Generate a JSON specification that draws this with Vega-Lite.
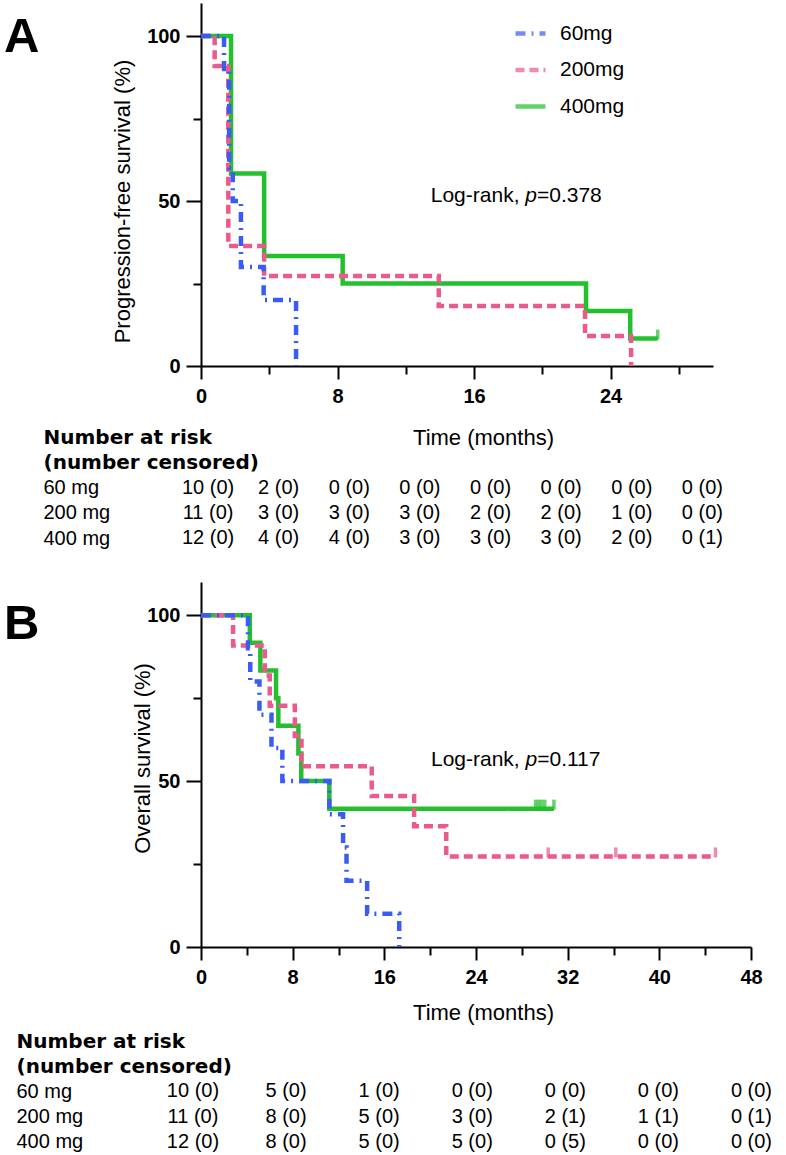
{
  "$schema": "https://vega.github.io/schema/vega-lite/v6.json",
  "background": "white",
  "padding": {"left": 4, "top": 3, "right": 0, "bottom": 0},
  "bounds": "flush",
  "spacing": 0,
  "config": {
    "font": "Liberation Sans",
    "view": {"stroke": null},
    "axis": {
      "grid": false,
      "domainColor": "black",
      "domainWidth": 2,
      "tickColor": "black",
      "tickWidth": 2,
      "labelColor": "black",
      "titleColor": "black",
      "labelFont": "Liberation Sans",
      "labelFontSize": 20,
      "labelFontWeight": "bold",
      "titleFont": "Liberation Sans",
      "titleFontSize": 22,
      "titleFontWeight": "normal"
    },
    "text": {"color": "black"}
  },
  "resolve": {"scale": {"color": "independent", "strokeDash": "independent", "strokeWidth": "independent"}},
  "datasets": {
    "survA": [
      {"dose": "400mg", "t": 0, "s": 100},
      {"dose": "400mg", "t": 1.76, "s": 58.3},
      {"dose": "400mg", "t": 3.7, "s": 33.3},
      {"dose": "400mg", "t": 8.3, "s": 25},
      {"dose": "400mg", "t": 22.56, "s": 16.7},
      {"dose": "400mg", "t": 25.15, "s": 8.3},
      {"dose": "400mg", "t": 26.76, "s": 8.3},
      {"dose": "200mg", "t": 0, "s": 100},
      {"dose": "200mg", "t": 0.8, "s": 90.9},
      {"dose": "200mg", "t": 1.6, "s": 36.4},
      {"dose": "200mg", "t": 3.7, "s": 27.3},
      {"dose": "200mg", "t": 13.93, "s": 18.2},
      {"dose": "200mg", "t": 22.5, "s": 9.1},
      {"dose": "200mg", "t": 25.2, "s": 0},
      {"dose": "60mg", "t": 0, "s": 100},
      {"dose": "60mg", "t": 1.35, "s": 90},
      {"dose": "60mg", "t": 1.65, "s": 60},
      {"dose": "60mg", "t": 1.86, "s": 50},
      {"dose": "60mg", "t": 2.34, "s": 30},
      {"dose": "60mg", "t": 3.67, "s": 20},
      {"dose": "60mg", "t": 5.57, "s": 0}
    ],
    "censA": [
      {"dose": "400mg", "t": 26.76, "s": 8.3}
    ],
    "survB": [
      {"dose": "400mg", "t": 0, "s": 100},
      {"dose": "400mg", "t": 4.26, "s": 91.7},
      {"dose": "400mg", "t": 5.18, "s": 83.3},
      {"dose": "400mg", "t": 6.55, "s": 75},
      {"dose": "400mg", "t": 6.75, "s": 66.7},
      {"dose": "400mg", "t": 8.5, "s": 58.3},
      {"dose": "400mg", "t": 8.75, "s": 50},
      {"dose": "400mg", "t": 11.2, "s": 41.7},
      {"dose": "400mg", "t": 30.8, "s": 41.7},
      {"dose": "200mg", "t": 0, "s": 100},
      {"dose": "200mg", "t": 2.8, "s": 90.9},
      {"dose": "200mg", "t": 5.57, "s": 81.8},
      {"dose": "200mg", "t": 6.0, "s": 72.7},
      {"dose": "200mg", "t": 8.19, "s": 63.6},
      {"dose": "200mg", "t": 8.77, "s": 54.5},
      {"dose": "200mg", "t": 14.9, "s": 45.5},
      {"dose": "200mg", "t": 18.6, "s": 36.4},
      {"dose": "200mg", "t": 21.4, "s": 27.3},
      {"dose": "200mg", "t": 44.9, "s": 27.3},
      {"dose": "60mg", "t": 0, "s": 100},
      {"dose": "60mg", "t": 4.1, "s": 90},
      {"dose": "60mg", "t": 4.3, "s": 80},
      {"dose": "60mg", "t": 5.1, "s": 70},
      {"dose": "60mg", "t": 6.15, "s": 60},
      {"dose": "60mg", "t": 7.1, "s": 50},
      {"dose": "60mg", "t": 11.2, "s": 40},
      {"dose": "60mg", "t": 12.4, "s": 30},
      {"dose": "60mg", "t": 12.7, "s": 20},
      {"dose": "60mg", "t": 14.5, "s": 10},
      {"dose": "60mg", "t": 17.3, "s": 0}
    ],
    "censB": [
      {"dose": "400mg", "t": 29.2, "s": 41.7},
      {"dose": "400mg", "t": 29.45, "s": 41.7},
      {"dose": "400mg", "t": 29.7, "s": 41.7},
      {"dose": "400mg", "t": 30.0, "s": 41.7},
      {"dose": "400mg", "t": 30.8, "s": 41.7},
      {"dose": "200mg", "t": 30.3, "s": 27.3},
      {"dose": "200mg", "t": 36.2, "s": 27.3},
      {"dose": "200mg", "t": 44.9, "s": 27.3}
    ],
    "tabA": [
      {"r": 3, "t": 0, "v": "10 (0)"}, {"r": 3, "t": 4, "v": "2 (0)"}, {"r": 3, "t": 8, "v": "0 (0)"}, {"r": 3, "t": 12, "v": "0 (0)"},
      {"r": 3, "t": 16, "v": "0 (0)"}, {"r": 3, "t": 20, "v": "0 (0)"}, {"r": 3, "t": 24, "v": "0 (0)"}, {"r": 3, "t": 28, "v": "0 (0)"},
      {"r": 4, "t": 0, "v": "11 (0)"}, {"r": 4, "t": 4, "v": "3 (0)"}, {"r": 4, "t": 8, "v": "3 (0)"}, {"r": 4, "t": 12, "v": "3 (0)"},
      {"r": 4, "t": 16, "v": "2 (0)"}, {"r": 4, "t": 20, "v": "2 (0)"}, {"r": 4, "t": 24, "v": "1 (0)"}, {"r": 4, "t": 28, "v": "0 (0)"},
      {"r": 5, "t": 0, "v": "12 (0)"}, {"r": 5, "t": 4, "v": "4 (0)"}, {"r": 5, "t": 8, "v": "4 (0)"}, {"r": 5, "t": 12, "v": "3 (0)"},
      {"r": 5, "t": 16, "v": "3 (0)"}, {"r": 5, "t": 20, "v": "3 (0)"}, {"r": 5, "t": 24, "v": "2 (0)"}, {"r": 5, "t": 28, "v": "0 (1)"}
    ],
    "tabB": [
      {"r": 3, "t": 0, "v": "10 (0)"}, {"r": 3, "t": 8, "v": "5 (0)"}, {"r": 3, "t": 16, "v": "1 (0)"}, {"r": 3, "t": 24, "v": "0 (0)"},
      {"r": 3, "t": 32, "v": "0 (0)"}, {"r": 3, "t": 40, "v": "0 (0)"}, {"r": 3, "t": 48, "v": "0 (0)"},
      {"r": 4, "t": 0, "v": "11 (0)"}, {"r": 4, "t": 8, "v": "8 (0)"}, {"r": 4, "t": 16, "v": "5 (0)"}, {"r": 4, "t": 24, "v": "3 (0)"},
      {"r": 4, "t": 32, "v": "2 (1)"}, {"r": 4, "t": 40, "v": "1 (1)"}, {"r": 4, "t": 48, "v": "0 (1)"},
      {"r": 5, "t": 0, "v": "12 (0)"}, {"r": 5, "t": 8, "v": "8 (0)"}, {"r": 5, "t": 16, "v": "5 (0)"}, {"r": 5, "t": 24, "v": "5 (0)"},
      {"r": 5, "t": 32, "v": "0 (5)"}, {"r": 5, "t": 40, "v": "0 (0)"}, {"r": 5, "t": 48, "v": "0 (0)"}
    ]
  },
  "vconcat": [
    {
      "width": 512,
      "height": 363,
      "title": {"text": "A", "anchor": "start", "frame": "group", "orient": "top", "offset": 0, "dx": -197, "dy": 97.5, "baseline": "alphabetic", "fontSize": 49, "fontWeight": "bold", "font": "Liberation Sans", "color": "black"},
      "layer": [
        {
          "data": {"name": "survA"},
          "mark": {"type": "line", "interpolate": "step-after", "strokeCap": "butt"},
          "encoding": {
            "x": {"field": "t", "type": "quantitative", "scale": {"domain": [0, 30], "nice": false, "zero": false},
              "axis": {"values": [0, 2, 4, 6, 8, 10, 12, 14, 16, 18, 20, 22, 24, 26, 28, 30],
                "labelExpr": "datum.value % 8 === 0 ? datum.label : ''",
                "tickSize": {"condition": {"test": "datum.value % 8 === 0", "value": 13}, "value": 8},
                "labelPadding": 7, "labelOverlap": false, "labelFlush": false,
                "title": "Time (months)", "titleX": 282, "titleY": 61}},
            "y": {"field": "s", "type": "quantitative", "scale": {"domain": [0, 110], "nice": false},
              "axis": {"values": [0, 25, 50, 75, 100],
                "labelExpr": "datum.value % 50 === 0 ? datum.label : ''",
                "tickSize": {"condition": {"test": "datum.value % 50 === 0", "value": 15}, "value": 8},
                "labelPadding": 6, "labelOverlap": false, "labelFlush": false,
                "title": "Progression-free survival (%)", "titleX": -67, "titleY": 198, "titleBaseline": "bottom"}},
            "color": {"field": "dose", "type": "nominal", "scale": {"domain": ["60mg", "200mg", "400mg"], "range": ["#3a5cf5", "#eb5a8c", "#22c02c"]},
              "legend": {"title": null, "orient": "none", "legendX": 312, "legendY": 13, "symbolType": "stroke", "symbolSize": 900, "labelFontSize": 21, "labelFont": "Liberation Sans", "labelColor": "black", "rowPadding": 8.5, "labelOffset": 12, "padding": 0}},
            "strokeDash": {"field": "dose", "type": "nominal", "scale": {"domain": ["60mg", "200mg", "400mg"], "range": [[10, 6, 2, 6], [9, 5], [1, 0]]},
              "legend": {"title": null, "orient": "none", "legendX": 312, "legendY": 13, "symbolType": "stroke", "symbolSize": 900, "labelFontSize": 21, "labelFont": "Liberation Sans", "labelColor": "black", "rowPadding": 8.5, "labelOffset": 12, "padding": 0}},
            "strokeWidth": {"field": "dose", "type": "nominal", "scale": {"domain": ["60mg", "200mg", "400mg"], "range": [4.5, 4.5, 6]},
              "legend": {"title": null, "orient": "none", "legendX": 312, "legendY": 13, "symbolType": "stroke", "symbolSize": 900, "labelFontSize": 21, "labelFont": "Liberation Sans", "labelColor": "black", "rowPadding": 8.5, "labelOffset": 12, "padding": 0}}
          }
        },
        {
          "data": {"name": "censA"},
          "mark": {"type": "tick", "orient": "vertical", "size": 10, "thickness": 3.5, "yOffset": -4},
          "encoding": {
            "x": {"field": "t", "type": "quantitative"},
            "y": {"field": "s", "type": "quantitative"},
            "color": {"field": "dose", "type": "nominal"}
          }
        },
        {
          "data": {"values": [{}]},
          "mark": {"type": "text", "align": "right", "baseline": "alphabetic", "fontSize": 21, "font": "Liberation Sans", "dx": -5.8},
          "encoding": {"x": {"datum": 19.0, "type": "quantitative"}, "y": {"datum": 49.7, "type": "quantitative"}, "text": {"value": "Log-rank,"}}
        },
        {
          "data": {"values": [{}]},
          "mark": {"type": "text", "align": "left", "baseline": "alphabetic", "fontSize": 21, "font": "Liberation Sans", "fontStyle": "italic"},
          "encoding": {"x": {"datum": 19.0, "type": "quantitative"}, "y": {"datum": 49.7, "type": "quantitative"}, "text": {"value": "p"}}
        },
        {
          "data": {"values": [{}]},
          "mark": {"type": "text", "align": "left", "baseline": "alphabetic", "fontSize": 21, "font": "Liberation Sans", "dx": 11.7},
          "encoding": {"x": {"datum": 19.0, "type": "quantitative"}, "y": {"datum": 49.7, "type": "quantitative"}, "text": {"value": "=0.378"}}
        }
      ]
    },
    {
      "width": 512,
      "height": 216,
      "data": {"name": "tabA"},
      "mark": {"type": "text", "fontSize": 20, "font": "Liberation Sans", "baseline": "middle", "align": "center"},
      "encoding": {
        "x": {"field": "t", "type": "quantitative", "scale": {"domain": [-0.4, 28.6], "nice": false, "zero": false}, "axis": null},
        "y": {"field": "r", "type": "quantitative",
          "scale": {"domain": [-1.812, 6.742], "reverse": true, "nice": false, "zero": false},
          "axis": {"title": null, "orient": "left", "values": [1, 2, 3, 4, 5],
            "labelExpr": "['Number at risk', '(number censored)', '60 mg', '200 mg', '400 mg'][datum.value - 1]",
            "domain": false, "ticks": false, "tickSize": 0, "labelPadding": 0, "offset": 158, "labelAlign": "left", "labelBaseline": "middle", "labelFontSize": 20, "labelLimit": 0, "labelColor": "black", "labelOverlap": false, "labelFlush": false,
            "labelFont": {"condition": {"test": "datum.value <= 2", "value": "DejaVu Sans"}, "value": "Liberation Sans"},
            "labelFontWeight": {"condition": {"test": "datum.value <= 2", "value": "bold"}, "value": "normal"}}},
        "text": {"field": "v"}
      }
    },
    {
      "width": 550,
      "height": 365,
      "title": {"text": "B", "anchor": "start", "frame": "group", "orient": "top", "offset": 0, "dx": -197, "dy": 105.5, "baseline": "alphabetic", "fontSize": 49, "fontWeight": "bold", "font": "Liberation Sans", "color": "black"},
      "layer": [
        {
          "data": {"name": "survB"},
          "mark": {"type": "line", "interpolate": "step-after", "strokeCap": "butt"},
          "encoding": {
            "x": {"field": "t", "type": "quantitative", "scale": {"domain": [0, 48], "nice": false, "zero": false},
              "axis": {"values": [0, 2, 4, 6, 8, 10, 12, 14, 16, 18, 20, 22, 24, 26, 28, 30, 32, 34, 36, 38, 40, 42, 44, 46, 48],
                "labelExpr": "datum.value % 8 === 0 ? datum.label : ''",
                "tickSize": {"condition": {"test": "datum.value % 8 === 0", "value": 13}, "value": 8},
                "labelPadding": 7, "labelOverlap": false, "labelFlush": false,
                "title": "Time (months)", "titleX": 282, "titleY": 55}},
            "y": {"field": "s", "type": "quantitative", "scale": {"domain": [0, 110], "nice": false},
              "axis": {"values": [0, 25, 50, 75, 100],
                "labelExpr": "datum.value % 50 === 0 ? datum.label : ''",
                "tickSize": {"condition": {"test": "datum.value % 50 === 0", "value": 15}, "value": 8},
                "labelPadding": 6, "labelOverlap": false, "labelFlush": false,
                "title": "Overall  survival (%)", "titleX": -47, "titleY": 176, "titleBaseline": "bottom"}},
            "color": {"field": "dose", "type": "nominal", "scale": {"domain": ["60mg", "200mg", "400mg"], "range": ["#3a5cf5", "#eb5a8c", "#22c02c"]}, "legend": null},
            "strokeDash": {"field": "dose", "type": "nominal", "scale": {"domain": ["60mg", "200mg", "400mg"], "range": [[10, 6, 2, 6], [9, 5], [1, 0]]}, "legend": null},
            "strokeWidth": {"field": "dose", "type": "nominal", "scale": {"domain": ["60mg", "200mg", "400mg"], "range": [4.5, 4.5, 6]}, "legend": null}
          }
        },
        {
          "data": {"name": "censB"},
          "mark": {"type": "tick", "orient": "vertical", "size": 10, "thickness": 3.5, "yOffset": -4},
          "encoding": {
            "x": {"field": "t", "type": "quantitative"},
            "y": {"field": "s", "type": "quantitative"},
            "color": {"field": "dose", "type": "nominal", "legend": null}
          }
        },
        {
          "data": {"values": [{}]},
          "mark": {"type": "text", "align": "right", "baseline": "alphabetic", "fontSize": 21, "font": "Liberation Sans", "dx": -5.8},
          "encoding": {"x": {"datum": 28.32, "type": "quantitative"}, "y": {"datum": 54.55, "type": "quantitative"}, "text": {"value": "Log-rank,"}}
        },
        {
          "data": {"values": [{}]},
          "mark": {"type": "text", "align": "left", "baseline": "alphabetic", "fontSize": 21, "font": "Liberation Sans", "fontStyle": "italic"},
          "encoding": {"x": {"datum": 28.32, "type": "quantitative"}, "y": {"datum": 54.55, "type": "quantitative"}, "text": {"value": "p"}}
        },
        {
          "data": {"values": [{}]},
          "mark": {"type": "text", "align": "left", "baseline": "alphabetic", "fontSize": 21, "font": "Liberation Sans", "dx": 11.7},
          "encoding": {"x": {"datum": 28.32, "type": "quantitative"}, "y": {"datum": 54.55, "type": "quantitative"}, "text": {"value": "=0.117"}}
        }
      ]
    },
    {
      "width": 550,
      "height": 208,
      "data": {"name": "tabB"},
      "mark": {"type": "text", "fontSize": 20, "font": "Liberation Sans", "baseline": "middle", "align": "center"},
      "encoding": {
        "x": {"field": "t", "type": "quantitative", "scale": {"domain": [0.688, 47.96], "nice": false, "zero": false}, "axis": null},
        "y": {"field": "r", "type": "quantitative",
          "scale": {"domain": [-2.723, 5.515], "reverse": true, "nice": false, "zero": false},
          "axis": {"title": null, "orient": "left", "values": [1, 2, 3, 4, 5],
            "labelExpr": "['Number at risk', '(number censored)', '60 mg', '200 mg', '400 mg'][datum.value - 1]",
            "domain": false, "ticks": false, "tickSize": 0, "labelPadding": 0, "offset": 185, "labelAlign": "left", "labelBaseline": "middle", "labelFontSize": 20, "labelLimit": 0, "labelColor": "black", "labelOverlap": false, "labelFlush": false,
            "labelFont": {"condition": {"test": "datum.value <= 2", "value": "DejaVu Sans"}, "value": "Liberation Sans"},
            "labelFontWeight": {"condition": {"test": "datum.value <= 2", "value": "bold"}, "value": "normal"}}},
        "text": {"field": "v"}
      }
    }
  ]
}
